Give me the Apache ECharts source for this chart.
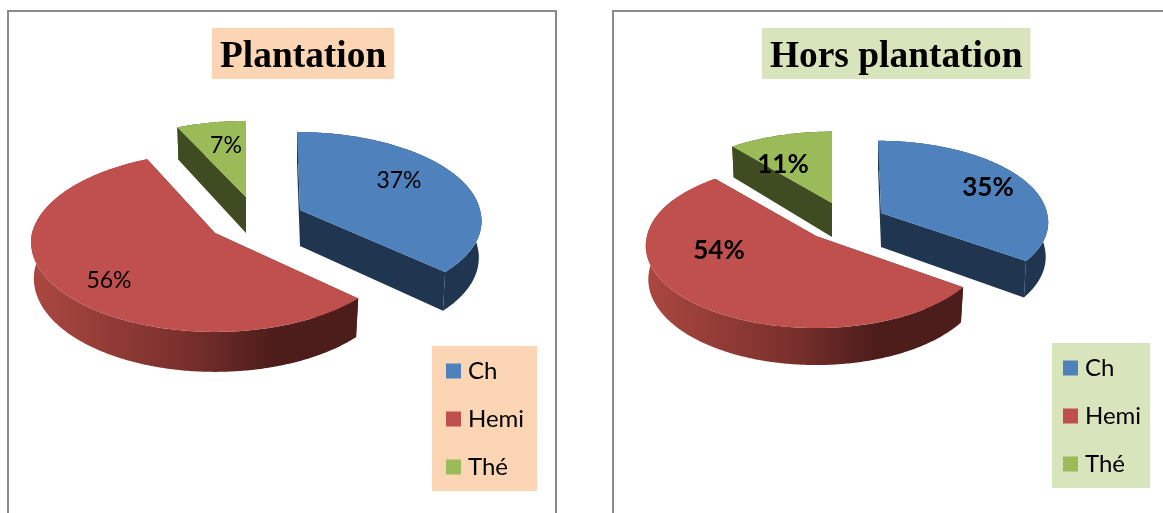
<!DOCTYPE html>
<html><head><meta charset="utf-8">
<style>html,body{margin:0;padding:0;background:#fff}#c{width:1163px;height:513px}</style>
<script src="https://cdn.jsdelivr.net/npm/echarts@6/dist/echarts.min.js"></script>
</head><body><div id="c"></div>
<script>
// ---- data ----
const categories = ['Ch', 'Hemi', 'Thé'];
const plantationValues = [37, 56, 7];
const horsPlantationValues = [35, 54, 11];
const titles = ['Plantation', 'Hors plantation'];

// ---- styles / layout ----
const topColors = ['#4F81BD', '#C0504D', '#9BBB59'];
const wallColors = ['#1F3550', null, '#3F4B21'];
const panels = [
  { values: plantationValues, rx: 181, ry: 86.4, k: 0.136, depth: 36, dDepth: 4, bold: false, fontSize: 23,
    slices: [
      { cx: 300, cy: 210, rx: 180, ry: 85, k: 0.09, skew: 0.038, frontSkew: 0.085, lx: 99, ly: -29 },
      { cx: 215, cy: 233, rx: 183, ry: 89, k: 0.1, skew: -0.05, lx: -106, ly: 48 },
      { cx: 246, cy: 197, lx: -20, ly: -51 }
    ], grad: [40, 330] },
  { values: horsPlantationValues, rx: 171, ry: 82, k: 0.12, depth: 34, dDepth: 4, bold: true, fontSize: 26,
    slices: [
      { cx: 881, cy: 213, rx: 166, ry: 78, k: 0.08, skew: 0.04, frontSkew: 0.085, lx: 107, ly: -25 },
      { cx: 816, cy: 236, rx: 169, ry: 81, depth: 33, skew: 0.04, lx: -97, ly: 15 },
      { cx: 832, cy: 203, ry: 80, lx: -49, ly: -38 }
    ], grad: [655, 930] }
];

function project(p, s, theta, bottom) {
  const rx = s.rx || p.rx, ry = s.ry || p.ry, k = s.k || p.k;
  const u = Math.sin(theta), v = -Math.cos(theta), w = 1 - k * v;
  const dx = rx * u / w, dy = ry * v / w;
  const skew = (dy < 0 ? (s.skew || 0) : (s.frontSkew || 0)) * dy;
  if (!bottom) return [s.cx + dx + skew, s.cy + dy];
  const d = (s.depth || p.depth) + p.dDepth * v;
  return [s.cx + dx * 0.985 + skew, s.cy + dy + d];
}

function makeRender(pi, ci) {
  return function (params, api) {
    const p = panels[pi], s = p.slices[ci];
    const value = api.value(0);
    const total = p.values.reduce((a, b) => a + b, 0);
    const before = p.values.slice(0, ci).reduce((a, b) => a + b, 0);
    const a0 = before / total * 2 * Math.PI;
    const a1 = (before + value) / total * 2 * Math.PI;
    const n = Math.max(8, Math.round((a1 - a0) * 90));
    const arcT = [], arcB = [];
    for (let i = 0; i <= n; i++) {
      const t = a0 + (a1 - a0) * i / n;
      arcT.push(project(p, s, t, false));
      arcB.push(project(p, s, t, true));
    }
    const apexT = [s.cx, s.cy];
    const apexB = [s.cx, s.cy + (s.depth || p.depth)];
    const wall = wallColors[ci] || {
      type: 'linear', global: true, x: p.grad[0], y: 0, x2: p.grad[1], y2: 0,
      colorStops: [
        { offset: 0, color: '#A8463F' }, { offset: 0.5, color: '#7A302D' },
        { offset: 0.8, color: '#4D1D1B' }, { offset: 1, color: '#4D1D1B' }
      ]
    };
    const poly = (pts, fill) => ({ type: 'polygon', shape: { points: pts }, style: { fill: fill }, silent: true });
    const lastT = arcT[n], lastB = arcB[n];
    return { type: 'group', children: [
      poly([apexT, arcT[0], arcB[0], apexB], wallColors[ci] || '#4D1D1B'),
      poly([apexT, lastT, lastB, apexB], wallColors[ci] || '#4D1D1B'),
      poly(arcT.concat(arcB.slice().reverse()), wall),
      poly([apexT].concat(arcT), topColors[ci]),
      { type: 'text', silent: true, style: {
          text: value + '%', x: s.cx + s.lx, y: s.cy + s.ly,
          fill: '#000', align: 'center', verticalAlign: 'middle',
          font: (p.bold ? 'bold ' : '') + p.fontSize + 'px Lato'
      } }
    ] };
  };
}

const series = [];
panels.forEach((p, pi) => categories.forEach((name, ci) => series.push({
  type: 'custom', name: name, coordinateSystem: 'none', silent: true, animation: false,
  itemStyle: { color: topColors[ci] },
  renderItem: makeRender(pi, ci),
  data: [[p.values[ci]]]
})));

const titleBase = { top: 28, padding: [11, 8, 3, 8], textStyle: { fontFamily: 'Liberation Serif', fontWeight: 'bold', fontSize: 37.4, lineHeight: 37, color: '#000' } };
const legendBase = { orient: 'vertical', data: categories, selectedMode: false, itemWidth: 15, itemHeight: 15, itemGap: 24, icon: 'rect', height: 135,
  textStyle: { fontFamily: 'Lato', fontSize: 24, color: '#000', padding: [0, 0, 0, 2] } };

const chart = echarts.init(document.getElementById('c'), null, { renderer: 'canvas' });
chart.setOption({
  backgroundColor: '#fff', animation: false, tooltip: { show: false },
  title: [
    Object.assign({}, titleBase, { text: titles[0], left: 212, backgroundColor: '#FCD5B5' }),
    Object.assign({}, titleBase, { text: titles[1], left: 762, backgroundColor: '#D8E4BC' })
  ],
  legend: [
    Object.assign({}, legendBase, { left: 432, top: 346, padding: [13, 13, 12, 14], backgroundColor: '#FCD5B5' }),
    Object.assign({}, legendBase, { left: 1052, top: 343, padding: [13, 9, 12, 11], backgroundColor: '#D8E4BC' })
  ],
  graphic: [
    { type: 'rect', silent: true, shape: { x: 8, y: 11, width: 548, height: 540 }, style: { fill: 'none', stroke: '#8A8A8A', lineWidth: 2 } },
    { type: 'rect', silent: true, shape: { x: 613, y: 11, width: 580, height: 540 }, style: { fill: 'none', stroke: '#8A8A8A', lineWidth: 2 } }
  ],
  series: series
});
</script></body></html>
